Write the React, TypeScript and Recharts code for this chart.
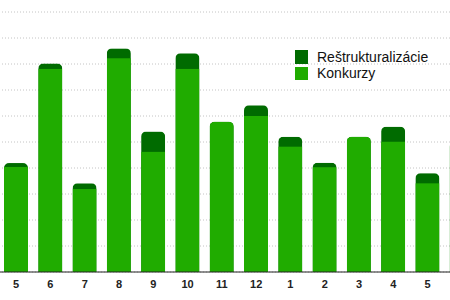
import { Bar, BarChart, CartesianGrid, Legend, XAxis, YAxis } from "recharts";

// monthly counts, oldest first
const months = ["5", "6", "7", "8", "9", "10", "11", "12", "1", "2", "3", "4", "5", "6"];
const konkurzy = [40.4, 78.1, 31.9, 82.2, 46.2, 78.1, 57.8, 60.0, 48.2, 40.3, 52.0, 50.1, 34.1, 50.0];
const restrukturalizacie = [1.5, 2.1, 2.2, 3.8, 7.8, 6.0, 0, 4.1, 3.8, 1.7, 0, 5.8, 3.9, 0];
const yTicks = [0, 10, 20, 30, 40, 50, 60, 70, 80, 90, 100];

const LIGHT = "#20ac00";
const DARK = "#006b00";
const CHART_LEFT = -1.5;
const VIEW_WIDTH = 450;

const legendItems = [
  { name: "Reštrukturalizácie", color: DARK },
  { name: "Konkurzy", color: LIGHT },
];

const data = months.map((month, i) => ({
  month,
  konkurzy: konkurzy[i],
  restrukturalizacie: restrukturalizacie[i],
  total: konkurzy[i] + restrukturalizacie[i],
}));

// one rounded-top column, split into the two series by their share of the total
function StackShape(props: any) {
  const { x, y, width, height, payload, index } = props;
  if (!height || height <= 0) return null;
  const r = Math.min(5, width / 2, height);
  const lightH = (height * payload.konkurzy) / payload.total;
  const id = `stack-clip-${index}`;
  const d = `M${x},${y + height} L${x},${y + r} A${r},${r} 0 0 1 ${x + r},${y} L${x + width - r},${y} A${r},${r} 0 0 1 ${x + width},${y + r} L${x + width},${y + height} Z`;
  return (
    <g>
      <defs>
        <clipPath id={id}>
          <path d={d} />
        </clipPath>
      </defs>
      <g clipPath={`url(#${id})`}>
        <rect x={x} y={y} width={width} height={height} fill={DARK} />
        <rect x={x} y={y + height - lightH} width={width} height={lightH} fill={LIGHT} />
      </g>
    </g>
  );
}

// month labels; the last column runs past the right edge, so its label is skipped
function MonthTick(props: any) {
  const { x, y, payload } = props;
  if (x + CHART_LEFT > VIEW_WIDTH - 6) return null;
  return (
    <text x={x} y={y} dy="0.71em" textAnchor="middle" fontSize={11} fontWeight="bold" fill="#222">
      {payload.value}
    </text>
  );
}

function LegendBox() {
  return (
    <div>
      {legendItems.map((item) => (
        <div
          key={item.name}
          style={{ display: "flex", alignItems: "center", height: 16.5, fontSize: 14, color: "#111" }}
        >
          <span style={{ width: 13, height: 13.5, background: item.color, marginRight: 9 }} />
          <span style={{ lineHeight: "16.5px" }}>{item.name}</span>
        </div>
      ))}
    </div>
  );
}

export default function App() {
  return (
    <div
      style={{
        position: "absolute",
        left: 0,
        top: 0,
        width: VIEW_WIDTH,
        height: 300,
        overflow: "hidden",
        background: "#fff",
        fontFamily: "'Liberation Sans', Arial, sans-serif",
      }}
    >
      <div style={{ position: "absolute", left: CHART_LEFT, top: 0 }}>
        <BarChart
          width={480}
          height={300}
          data={data}
          margin={{ top: 12, right: 0, left: 0, bottom: 0 }}
          barSize={24}
        >
          <CartesianGrid vertical={false} stroke="#c4c4c4" strokeDasharray="1 2" />
          <XAxis
            dataKey="month"
            interval={0}
            height={28}
            tickLine={false}
            axisLine={{ stroke: "#222" }}
            tick={MonthTick}
          />
          <YAxis hide domain={[0, 100]} ticks={yTicks} />
          <Legend
            layout="vertical"
            align="center"
            verticalAlign="middle"
            wrapperStyle={{ top: 48.5, left: 296.5, width: 160 }}
            content={() => <LegendBox />}
          />
          <Bar dataKey="total" shape={StackShape} isAnimationActive={false} />
        </BarChart>
      </div>
    </div>
  );
}
